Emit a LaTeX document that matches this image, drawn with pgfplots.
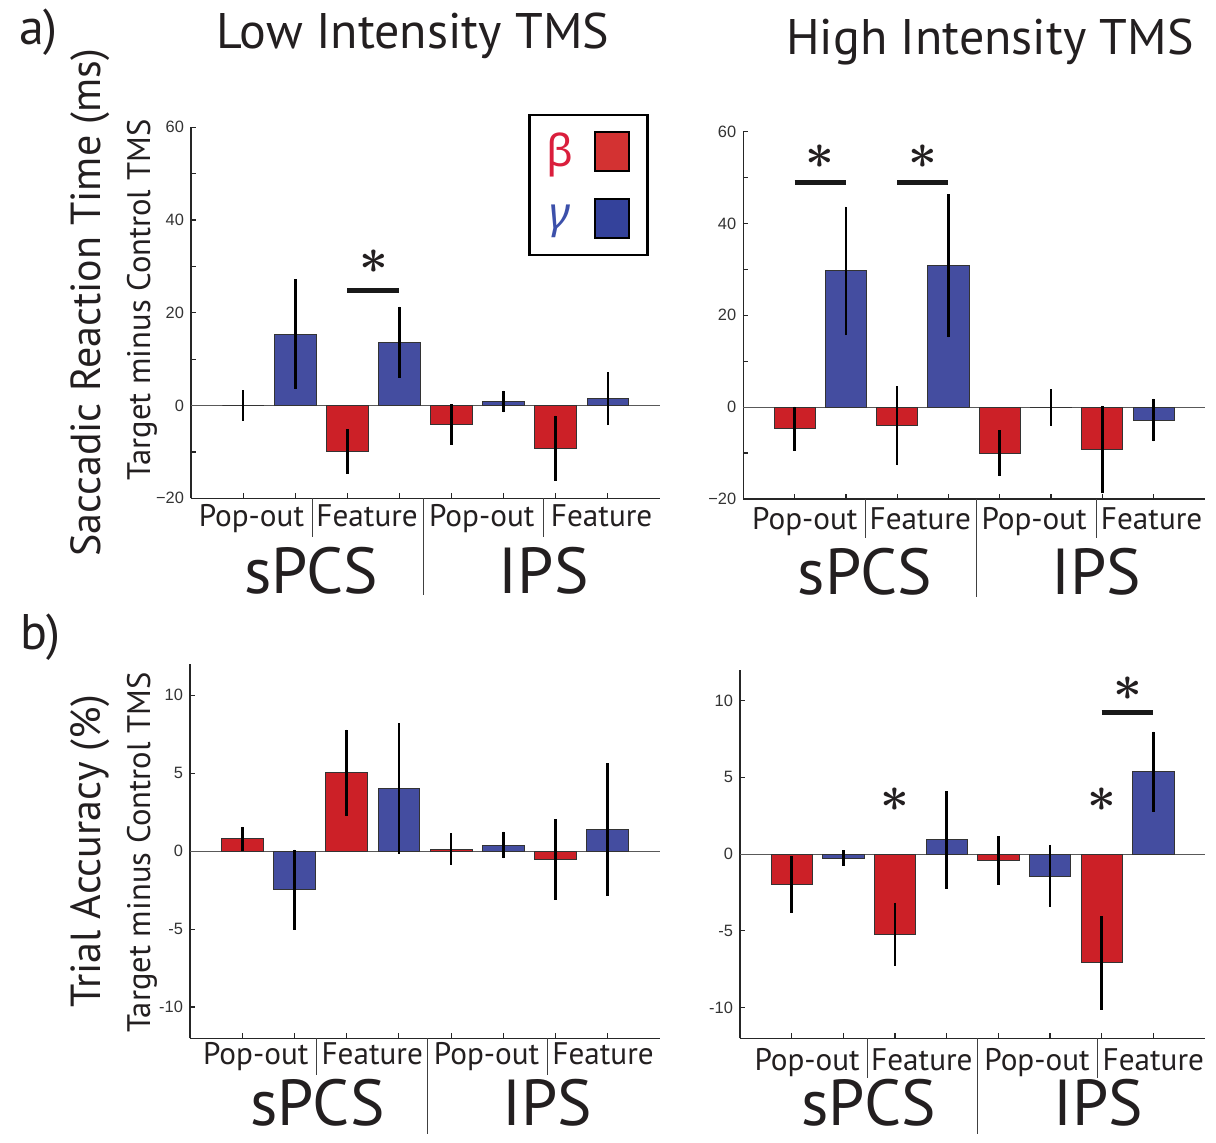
\documentclass[border=0pt]{standalone}
\usepackage{fontspec}
\setmainfont{PT Sans}
\newfontfamily\arialf{Liberation Sans}
\newfontfamily\greekf{Noto Sans}
\usepackage{graphicx}
\usepackage{pgfplots}
\pgfplotsset{compat=1.18}
\definecolor{bred}{RGB}{204,32,39}
\definecolor{bblue}{RGB}{68,77,160}
\definecolor{lred}{RGB}{211,50,50}
\definecolor{lblue}{RGB}{52,66,155}
\definecolor{gred}{RGB}{218,30,60}
\definecolor{gblue}{RGB}{60,80,170}
\definecolor{txt}{RGB}{35,31,32}
\newcommand\titlef{\fontsize{25}{25}\selectfont}
\newcommand\ylabf{\fontsize{21}{21}\selectfont}
\newcommand\subf{\fontsize{16.3}{16.3}\selectfont}
\newcommand\catf{\fontsize{15.6}{15.6}\selectfont}
\newcommand\regf{\fontsize{32.5}{32.5}\selectfont}
\newcommand\sigstar{\scalebox{2.5}{\boldmath$\ast$}}
\tikzset{
 sig/.style={line width=2.5pt, black!90},
 div/.style={line width=0.55pt, black!75},
}
\pgfplotsset{
 panel/.style={
  scale only axis,
  xmin=0,xmax=9,
  axis x line*=bottom, axis y line*=left,
  axis line style={-, line width=0.65pt, color=black!85},
  tick align=inside,
  major tick length=2.4pt,
  tick style={line width=0.6pt, color=black!85},
  xtick={1,...,8}, xticklabels={},
  clip=false,
  /pgf/number format/assume math mode=true,
  yticklabel style={font=\arialf\fontsize{8.2}{9}\selectfont, color=black!80},
 },
 errs/.style={error bars/y dir=both, error bars/y explicit, error bars/error mark=none,
   error bars/error bar style={line width=1.3pt, black}},
 redbar/.style={ybar, bar width=0.8, bar shift=0pt, fill=bred, draw=black!80, line width=0.5pt, errs},
 bluebar/.style={ybar, bar width=0.8, bar shift=0pt, fill=bblue, draw=black!80, line width=0.5pt, errs},
 zline/.style={black!65, line width=0.6pt, forget plot, mark=none},
}
\begin{document}
\begin{tikzpicture}[color=txt]
\path[use as bounding box] (0pt,0pt) rectangle (608pt,571.5pt);

% titles and labels
\node[anchor=base, font=\titlef] at (206.5pt,547pt) {Low Intensity TMS};
\node[anchor=base, font=\titlef] at (495pt,544pt) {High Intensity TMS};
\node[anchor=base west, font=\titlef] at (6pt,549pt) {a)};
\node[anchor=base west, font=\titlef] at (6.5pt,246.5pt) {b)};
\node[anchor=base, rotate=90, font=\ylabf] at (50pt,420pt) {Saccadic Reaction Time (ms)};
\node[anchor=base, rotate=90, font=\subf] at (75pt,421.5pt) {Target minus Control TMS};
\node[anchor=base, rotate=90, font=\ylabf] at (50pt,145.75pt) {Trial Accuracy (\%)};
\node[anchor=base, rotate=90, font=\subf] at (75pt,145.25pt) {Target minus Control TMS};

% ---------------- Top left
\begin{axis}[panel, at={(95.5pt,322.35pt)}, anchor=south west,
  width=234.5pt, height=185.5pt, ymin=-20, ymax=60,
  ytick={-20,-10,...,60}, yticklabels={−20,,0,,20,,40,,60},
  legend plot pos=right,
  legend style={at={(rel axis cs:0.719,1.036)}, anchor=north west, draw=black, line width=1.2pt,
    fill=white, inner xsep=8.5pt, inner ysep=8pt, row sep=13pt, column sep=10.5pt,
    font=\greekf\fontsize{22}{22}\selectfont, nodes={inner sep=0pt}},
  ]
\addplot[zline] coordinates {(0,0) (9,0)};
\addplot[forget plot, redbar] table[x=x,y=y,y error=e,row sep=\\]{x y e\\ 1 0 3.3\\ 3 -9.9 4.8\\ 5 -4.1 4.4\\ 7 -9.2 7.0\\};
\addplot[forget plot, bluebar] table[x=x,y=y,y error=e,row sep=\\]{x y e\\ 2 15.4 11.85\\ 4 13.65 7.7\\ 6 0.86 2.35\\ 8 1.5 5.7\\};
\addlegendimage{legend image code/.code={\draw[fill=lred, draw=black, line width=1pt] (0pt,-9.75pt) rectangle (17pt,9.75pt);}}
\addlegendentry{\textcolor{gred}{β}}
\addlegendimage{legend image code/.code={\draw[fill=lblue, draw=black, line width=1pt] (0pt,-9.75pt) rectangle (17pt,9.75pt);}}
\addlegendentry{\textcolor{gblue}{\itshape γ}}
\draw[sig] (axis cs:3,24.9) -- (axis cs:4,24.9);
\node at (axis cs:3.5,31.0) {\sigstar};
\draw[div] (axis cs:2.33,-20) -- ++(0pt,-19.5pt);
\draw[div] (axis cs:4.47,-20) -- ++(0pt,-48.5pt);
\draw[div] (axis cs:6.77,-20) -- ++(0pt,-19.5pt);
\node[anchor=base, font=\catf] at ([yshift=-14.2pt]axis cs:1.16,-20) {Pop-out};
\node[anchor=base, font=\catf] at ([yshift=-14.2pt]axis cs:3.38,-20) {Feature};
\node[anchor=base, font=\catf] at ([yshift=-14.2pt]axis cs:5.58,-20) {Pop-out};
\node[anchor=base, font=\catf] at ([yshift=-14.2pt]axis cs:7.88,-20) {Feature};
\node[anchor=base, font=\regf] at ([yshift=-47.5pt]axis cs:2.31,-20) {sPCS};
\node[anchor=base, font=\regf] at ([yshift=-47.5pt]axis cs:6.77,-20) {IPS};
\end{axis}

% ---------------- Top right
\begin{axis}[panel, at={(371.65pt,322pt)}, anchor=south west,
  width=230.85pt, height=183.65pt, ymin=-20, ymax=60,
  ytick={-20,-10,...,60}, yticklabels={−20,,0,,20,,40,,60}]
\addplot[zline] coordinates {(0,0) (9,0)};
\addplot[redbar] table[x=x,y=y,y error=e,row sep=\\]{x y e\\ 1 -4.7 4.8\\ 3 -4.1 8.6\\ 5 -10.0 5.0\\ 7 -9.2 9.5\\};
\addplot[bluebar] table[x=x,y=y,y error=e,row sep=\\]{x y e\\ 2 29.7 14.0\\ 4 30.8 15.6\\ 6 -0.15 4.0\\ 8 -2.8 4.65\\};
\draw[sig] (axis cs:1,48.9) -- (axis cs:2,48.9);
\draw[sig] (axis cs:3,48.9) -- (axis cs:4,48.9);
\node at (axis cs:1.5,54.5) {\sigstar};
\node at (axis cs:3.5,54.5) {\sigstar};
\draw[div] (axis cs:2.38,-20) -- ++(0pt,-19.5pt);
\draw[div] (axis cs:4.54,-20) -- ++(0pt,-49pt);
\draw[div] (axis cs:6.88,-20) -- ++(0pt,-19.5pt);
\node[anchor=base, font=\catf] at ([yshift=-15.5pt]axis cs:1.20,-20) {Pop-out};
\node[anchor=base, font=\catf] at ([yshift=-15.5pt]axis cs:3.45,-20) {Feature};
\node[anchor=base, font=\catf] at ([yshift=-15.5pt]axis cs:5.67,-20) {Pop-out};
\node[anchor=base, font=\catf] at ([yshift=-15.5pt]axis cs:7.96,-20) {Feature};
\node[anchor=base, font=\regf] at ([yshift=-48pt]axis cs:2.37,-20) {sPCS};
\node[anchor=base, font=\regf] at ([yshift=-48pt]axis cs:6.88,-20) {IPS};
\end{axis}

% ---------------- Bottom left
\begin{axis}[panel, at={(95pt,52.35pt)}, anchor=south west,
  width=235pt, height=187.15pt, ymin=-12, ymax=12,
  ytick={-10,-5,0,5,10}, yticklabels={-10,-5,0,5,10}]
\addplot[zline] coordinates {(0,0) (9,0)};
\addplot[redbar] table[x=x,y=y,y error=e,row sep=\\]{x y e\\ 1 0.78 0.78\\ 3 5.02 2.77\\ 5 0.13 1.02\\ 7 -0.54 2.58\\};
\addplot[bluebar] table[x=x,y=y,y error=e,row sep=\\]{x y e\\ 2 -2.47 2.57\\ 4 4.01 4.18\\ 6 0.39 0.86\\ 8 1.39 4.26\\};
\draw[div] (axis cs:2.43,-12) -- ++(0pt,-18.5pt);
\draw[div] (axis cs:4.55,-12) -- ++(0pt,-48pt);
\draw[div] (axis cs:6.84,-12) -- ++(0pt,-18.5pt);
\node[anchor=base, font=\catf] at ([yshift=-13.3pt]axis cs:1.26,-12) {Pop-out};
\node[anchor=base, font=\catf] at ([yshift=-13.3pt]axis cs:3.49,-12) {Feature};
\node[anchor=base, font=\catf] at ([yshift=-13.3pt]axis cs:5.68,-12) {Pop-out};
\node[anchor=base, font=\catf] at ([yshift=-13.3pt]axis cs:7.91,-12) {Feature};
\node[anchor=base, font=\regf] at ([yshift=-43.8pt]axis cs:2.44,-12) {sPCS};
\node[anchor=base, font=\regf] at ([yshift=-43.8pt]axis cs:6.84,-12) {IPS};
\end{axis}

% ---------------- Bottom right
\begin{axis}[panel, at={(370pt,52.35pt)}, anchor=south west,
  width=232.5pt, height=184.15pt, ymin=-12, ymax=12,
  ytick={-10,-5,0,5,10}, yticklabels={-10,-5,0,5,10}]
\addplot[zline] coordinates {(0,0) (9,0)};
\addplot[redbar] table[x=x,y=y,y error=e,row sep=\\]{x y e\\ 1 -2.0 1.85\\ 3 -5.22 2.05\\ 5 -0.43 1.58\\ 7 -7.09 3.04\\};
\addplot[bluebar] table[x=x,y=y,y error=e,row sep=\\]{x y e\\ 2 -0.26 0.5\\ 4 0.93 3.17\\ 6 -1.43 2.03\\ 8 5.37 2.61\\};
\node at (axis cs:3,3.52) {\sigstar};
\node at (axis cs:7,3.52) {\sigstar};
\draw[sig] (axis cs:7,9.22) -- (axis cs:8,9.22);
\node at (axis cs:7.5,10.8) {\sigstar};
\draw[div] (axis cs:2.46,-12) -- ++(0pt,-20pt);
\draw[div] (axis cs:4.6,-12) -- ++(0pt,-48pt);
\draw[div] (axis cs:6.92,-12) -- ++(0pt,-20pt);
\node[anchor=base, font=\catf] at ([yshift=-16.2pt]axis cs:1.30,-12) {Pop-out};
\node[anchor=base, font=\catf] at ([yshift=-16.2pt]axis cs:3.52,-12) {Feature};
\node[anchor=base, font=\catf] at ([yshift=-16.2pt]axis cs:5.75,-12) {Pop-out};
\node[anchor=base, font=\catf] at ([yshift=-16.2pt]axis cs:8.0,-12) {Feature};
\node[anchor=base, font=\regf] at ([yshift=-43.8pt]axis cs:2.49,-12) {sPCS};
\node[anchor=base, font=\regf] at ([yshift=-43.8pt]axis cs:6.93,-12) {IPS};
\end{axis}
\end{tikzpicture}
\end{document}
